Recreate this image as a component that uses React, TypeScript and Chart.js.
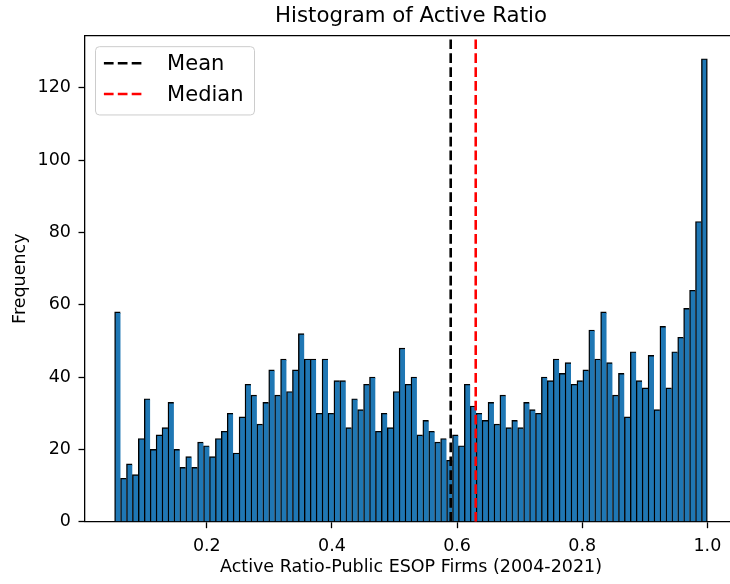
import React, { useEffect, useRef } from "react";
import { Chart, registerables } from "chart.js";

Chart.register(...registerables);

// ---- data ----
const binMin = 0.0526;
const binMax = 1.0;
const counts = [
  58, 12, 16, 13, 23, 34, 20, 24, 26, 33,
  20, 15, 18, 15, 22, 21, 18, 23, 25, 30,
  19, 29, 38, 35, 27, 33, 42, 35, 45, 36,
  42, 52, 45, 45, 30, 45, 30, 39, 39, 26,
  34, 31, 38, 40, 25, 30, 26, 36, 48, 38,
  40, 24, 28, 25, 22, 23, 17, 24, 21, 38,
  32, 30, 28, 33, 27, 35, 26, 28, 26, 33,
  31, 30, 40, 39, 45, 41, 44, 38, 39, 42,
  53, 45, 58, 44, 35, 41, 29, 47, 39, 37,
  46, 31, 54, 37, 47, 51, 59, 64, 83, 128,
];
const meanValue = 0.5898;
const medianValue = 0.6298;
const xTicks = [0.2, 0.4, 0.6, 0.8, 1.0];
const yTicks = [0, 20, 40, 60, 80, 100, 120];
const xMin = 0.00526;
const xMax = 1.0474;
const yMax = 134.4;

const FONT = "'DejaVu Sans', sans-serif";

const binWidth = (binMax - binMin) / counts.length;
const barData = counts.map((c, i) => ({ x: binMin + (i + 0.5) * binWidth, y: c }));

const framePlugin = {
  id: "frameAndLegend",
  afterDraw(chart: any) {
    const { ctx, chartArea: ca } = chart;
    ctx.save();
    // top & right spines
    ctx.strokeStyle = "#000";
    ctx.lineWidth = 1.3;
    ctx.beginPath();
    ctx.moveTo(ca.left, ca.top);
    ctx.lineTo(ca.right, ca.top);
    ctx.lineTo(ca.right, ca.bottom);
    ctx.stroke();

    // legend
    const bx = ca.left + 10.5;
    const by = ca.top + 11;
    const bw = 159;
    const bh = 68.3;
    const r = 4;
    ctx.beginPath();
    ctx.moveTo(bx + r, by);
    ctx.lineTo(bx + bw - r, by);
    ctx.arcTo(bx + bw, by, bx + bw, by + r, r);
    ctx.lineTo(bx + bw, by + bh - r);
    ctx.arcTo(bx + bw, by + bh, bx + bw - r, by + bh, r);
    ctx.lineTo(bx + r, by + bh);
    ctx.arcTo(bx, by + bh, bx, by + bh - r, r);
    ctx.lineTo(bx, by + r);
    ctx.arcTo(bx, by, bx + r, by, r);
    ctx.closePath();
    ctx.fillStyle = "rgba(255,255,255,0.8)";
    ctx.fill();
    ctx.strokeStyle = "#cccccc";
    ctx.lineWidth = 1;
    ctx.stroke();

    const items = chart.data.datasets.filter((d: any) => d.type === "line");
    items.forEach((d: any, i: number) => {
      const ly = by + 16.6 + i * 30.7;
      ctx.beginPath();
      ctx.setLineDash(d.borderDash);
      ctx.strokeStyle = d.borderColor;
      ctx.lineWidth = d.borderWidth;
      ctx.moveTo(bx + 8.4, ly);
      ctx.lineTo(bx + 46.6, ly);
      ctx.stroke();
      ctx.setLineDash([]);
      ctx.fillStyle = "#000";
      ctx.font = `21px ${FONT}`;
      ctx.textAlign = "left";
      ctx.textBaseline = "alphabetic";
      ctx.fillText(d.label, bx + 71.6, by + 23.5 + i * 30.9);
    });
    ctx.restore();
  },
};

export default function App() {
  const ref = useRef<HTMLCanvasElement>(null);
  useEffect(() => {
    if (!ref.current) return;
    const lastIndex = counts.length - 1;
    const chart = new Chart(ref.current, {
      type: "bar",
      data: {
        datasets: [
          {
            type: "line",
            label: "Mean",
            data: [
              { x: meanValue, y: 0 },
              { x: meanValue, y: yMax },
            ],
            borderColor: "#000000",
            borderWidth: 2.6,
            borderDash: [9.7, 4.2],
            pointRadius: 0,
            fill: false,
            order: 0,
          } as any,
          {
            type: "line",
            label: "Median",
            data: [
              { x: medianValue, y: 0 },
              { x: medianValue, y: yMax },
            ],
            borderColor: "#ff0000",
            borderWidth: 2.6,
            borderDash: [9.7, 4.2],
            pointRadius: 0,
            fill: false,
            order: 0,
          } as any,
          {
            type: "bar",
            label: "Active Ratio",
            data: barData,
            backgroundColor: "#1f77b4",
            borderColor: "#000000",
            borderWidth: (c: any) => ({
              left: 1.4,
              right: c.dataIndex === lastIndex ? 1.4 : 0,
              top: 1.4,
              bottom: 0,
            }),
            borderSkipped: false,
            barPercentage: 1,
            categoryPercentage: 1,
            order: 1,
          } as any,
        ],
      },
      options: {
        responsive: false,
        animation: false,
        events: [],
        layout: { padding: { left: 0, right: 23, top: 0, bottom: 0 } },
        plugins: {
          legend: { display: false },
          tooltip: { enabled: false },
          title: {
            display: true,
            text: "Histogram of Active Ratio",
            color: "#000",
            fullSize: false,
            font: { family: FONT, size: 21.3, weight: "normal" },
            padding: { top: 4, bottom: 6.1 },
          },
        },
        scales: {
          x: {
            type: "linear",
            min: xMin,
            max: xMax,
            offset: false,
            afterFit: (s: any) => {
              s.height = 62.3;
            },
            afterBuildTicks: (s: any) => {
              s.ticks = xTicks.map((v) => ({ value: v }));
            },
            grid: {
              offset: false,
              drawOnChartArea: false,
              drawTicks: true,
              tickLength: 6.5,
              tickColor: "#000",
              tickWidth: 1.3,
            },
            border: { display: true, color: "#000", width: 1.3 },
            ticks: {
              color: "#000",
              padding: 7.5,
              maxRotation: 0,
              autoSkip: false,
              font: { family: FONT, size: 17.5 },
              callback: (v: any) => Number(v).toFixed(1),
            },
            title: {
              display: true,
              text: "Active Ratio-Public ESOP Firms (2004-2021)",
              color: "#000",
              font: { family: FONT, size: 17.5 },
              padding: { top: 0, bottom: 6.5 },
            },
          },
          y: {
            type: "linear",
            min: 0,
            max: yMax,
            afterFit: (s: any) => {
              s.width = 85;
            },
            afterBuildTicks: (s: any) => {
              s.ticks = yTicks.map((v) => ({ value: v }));
            },
            grid: {
              drawOnChartArea: false,
              drawTicks: true,
              tickLength: 6.5,
              tickColor: "#000",
              tickWidth: 1.3,
            },
            border: { display: true, color: "#000", width: 1.3 },
            ticks: {
              color: "#000",
              padding: 7.5,
              autoSkip: false,
              font: { family: FONT, size: 17.5 },
              callback: (v: any) => String(v),
            },
            title: {
              display: true,
              text: "Frequency",
              color: "#000",
              font: { family: FONT, size: 17.5 },
              padding: { top: 9.5, bottom: 0 },
            },
          },
        },
      },
      plugins: [framePlugin],
    });
    return () => chart.destroy();
  }, []);

  return (
    <div
      style={{
        position: "fixed",
        left: 0,
        top: 0,
        width: 730,
        height: 584,
        overflow: "hidden",
        background: "#fff",
      }}
    >
      <canvas ref={ref} width={760} height={584} style={{ display: "block" }} />
    </div>
  );
}
